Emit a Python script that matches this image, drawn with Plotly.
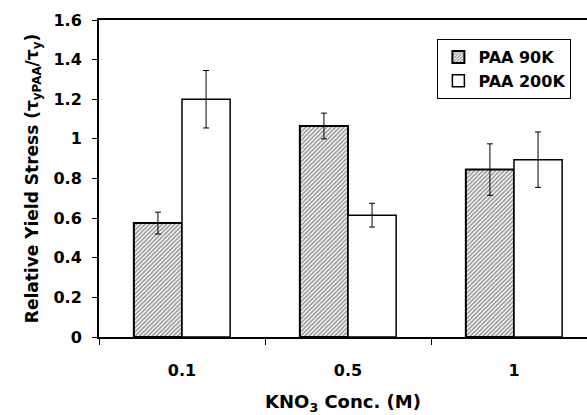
import plotly.graph_objects as go

categories = ["0.1", "0.5", "1"]
paa90k = [0.575, 1.065, 0.845]
paa90k_err = [0.055, 0.065, 0.13]
paa200k = [1.20, 0.615, 0.895]
paa200k_err = [0.145, 0.06, 0.14]
yticks = [0, 0.2, 0.4, 0.6, 0.8, 1, 1.2, 1.4, 1.6]
ytick_labels = ["0", "0.2", "0.4", "0.6", "0.8", "1", "1.2", "1.4", "1.6"]

FS = 16
font = dict(family="DejaVu Sans", size=FS, color="black")

def b(s):
    return "<b>" + s + "</b>"

fig = go.Figure()
fig.add_trace(go.Bar(
    x=categories, y=paa90k, name=b("PAA 90K"),
    error_y=dict(type="data", array=paa90k_err, color="black", thickness=1, width=3),
    marker=dict(color="white", line=dict(color="black", width=2),
                pattern=dict(shape="/", size=3, solidity=0.55, fgcolor="#333333", bgcolor="white")),
))
fig.add_trace(go.Bar(
    x=categories, y=paa200k, name=b("PAA 200K"),
    error_y=dict(type="data", array=paa200k_err, color="black", thickness=1, width=3),
    marker=dict(color="white", line=dict(color="black", width=1.5)),
))

fig.update_layout(
    width=587, height=415,
    margin=dict(l=99, r=0, t=20, b=78),
    paper_bgcolor="white", plot_bgcolor="white",
    font=font,
    barmode="group", bargap=0.42, bargroupgap=0,
    showlegend=True,
    legend=dict(x=0.968, y=0.94, xanchor="right", yanchor="top",
                bordercolor="black", borderwidth=1, bgcolor="white",
                font=font, tracegroupgap=0, itemwidth=30),
    xaxis=dict(
        type="category", range=[-0.5, 2.4398],
        showline=True, linecolor="black", linewidth=2, mirror=True,
        ticks="outside", tickson="boundaries", ticklen=6, tickcolor="black",
        tickvals=categories, ticktext=[b(c) for c in categories],
        ticklabelstandoff=18,
        showgrid=False, tickfont=font,
        title=dict(text=b("KNO<sub>3</sub> Conc. (M)"), font=dict(family="DejaVu Sans", size=18, color="black"), standoff=18),
    ),
    yaxis=dict(
        range=[0, 1.6], tickvals=yticks, ticktext=[b(t) for t in ytick_labels],
        showline=True, linecolor="black", linewidth=2, mirror=False,
        ticks="outside", ticklen=5, tickcolor="black",
        ticklabelstandoff=7,
        showgrid=False, zeroline=False, tickfont=font,
        title=dict(text=b("Relative Yield Stress (τ<sub>yPAA</sub>/τ<sub>y</sub>)"), font=dict(family="DejaVu Sans", size=17, color="black"), standoff=11),
    ),
)

fig.write_html("out.html")
